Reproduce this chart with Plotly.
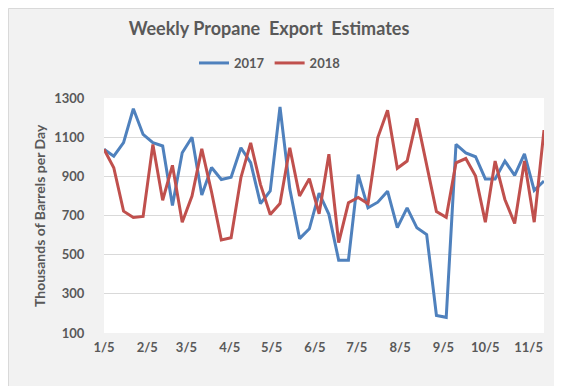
import plotly.graph_objects as go
import pandas as pd

weeks = pd.date_range("2018-01-05", periods=46, freq="7D")

exports_2017 = [1038, 1003, 1072, 1245, 1114, 1072, 1055, 751, 1020, 1100,
                805, 945, 884, 896, 1046, 970, 761, 826, 1254, 836,
                582, 632, 814, 706, 472, 472, 908, 739, 768, 824,
                638, 739, 637, 603, 190, 180, 1063, 1020, 1000, 887,
                887, 978, 905, 1015, 828, 876]

exports_2018 = [1038, 944, 722, 690, 695, 1063, 778, 956, 666, 799,
                1040, 820, 575, 586, 893, 1071, 859, 705, 761, 1046,
                800, 888, 709, 1013, 562, 765, 792, 760, 1098, 1238,
                941, 978, 1196, 960, 720, 691, 969, 991, 901, 666,
                978, 782, 659, 978, 666, 1136]

tick_dates = ["2018-01-05", "2018-02-05", "2018-03-05", "2018-04-05", "2018-05-05", "2018-06-05",
              "2018-07-05", "2018-08-05", "2018-09-05", "2018-10-05", "2018-11-05"]
tick_labels = ["1/5", "2/5", "3/5", "4/5", "5/5", "6/5", "7/5", "8/5", "9/5", "10/5", "11/5"]
y_ticks = [100, 300, 500, 700, 900, 1100, 1300]

FONT = "Lato"
GREY = "#595959"

fig = go.Figure()
fig.add_trace(go.Scatter(x=weeks, y=exports_2017, mode="lines", name="2017",
                         line=dict(color="#4f81bd", width=3)))
fig.add_trace(go.Scatter(x=weeks, y=exports_2018, mode="lines", name="2018",
                         line=dict(color="#c0504d", width=3)))

W, H = 562, 386
L, R, T, B = 96, 26, 90, 61
pw, ph = W - L - R, H - T - B

def px_x(p):
    return (p - L) / pw

def px_y(p):
    return (H - B - p) / ph

fig.update_layout(
    width=W, height=H,
    margin=dict(l=L, r=R, t=T, b=B),
    paper_bgcolor="#f2f2f2",
    plot_bgcolor="white",
    font=dict(family=FONT, color=GREY),
    title=dict(text="Weekly Propane  Export  Estimates", x=261 / W, xanchor="center",
               y=1 - 21 / H, yanchor="middle",
               font=dict(family=FONT, size=18, color=GREY, weight="bold")),
    legend=dict(orientation="h", x=px_x(262), xanchor="center", y=px_y(55), yanchor="middle",
                font=dict(family=FONT, size=13, color=GREY, weight="bold"),
                bgcolor="rgba(0,0,0,0)", itemwidth=30, tracegroupgap=0),
    showlegend=True,
    xaxis=dict(type="date", range=[weeks[0], weeks[-1]], tickvals=tick_dates, ticktext=tick_labels,
               showgrid=False, zeroline=False, showline=False,
               ticks="outside", ticklen=2, tickcolor="rgba(0,0,0,0)",
               tickfont=dict(family=FONT, size=13, color=GREY, weight="bold")),
    yaxis=dict(range=[100, 1300], tickvals=y_ticks, showgrid=True, gridcolor="#d9d9d9", gridwidth=1,
               zeroline=False, showline=False,
               ticks="outside", ticklen=16, tickcolor="rgba(0,0,0,0)",
               tickfont=dict(family=FONT, size=13, color=GREY, weight="bold")),
    annotations=[dict(text="Thousands of Barrels per Day", xref="paper", yref="paper",
                      x=px_x(31), y=px_y(208), textangle=-90, showarrow=False,
                      xanchor="center", yanchor="middle",
                      font=dict(family=FONT, size=14, color=GREY, weight="bold"))],
    shapes=[dict(type="rect", xref="paper", yref="paper",
                 x0=px_x(0.5), x1=px_x(W - 0.5), y0=px_y(H - 0.5), y1=px_y(0.5),
                 line=dict(color="#d9d9d9", width=1), layer="below")],
)

fig.write_html("out.html")
